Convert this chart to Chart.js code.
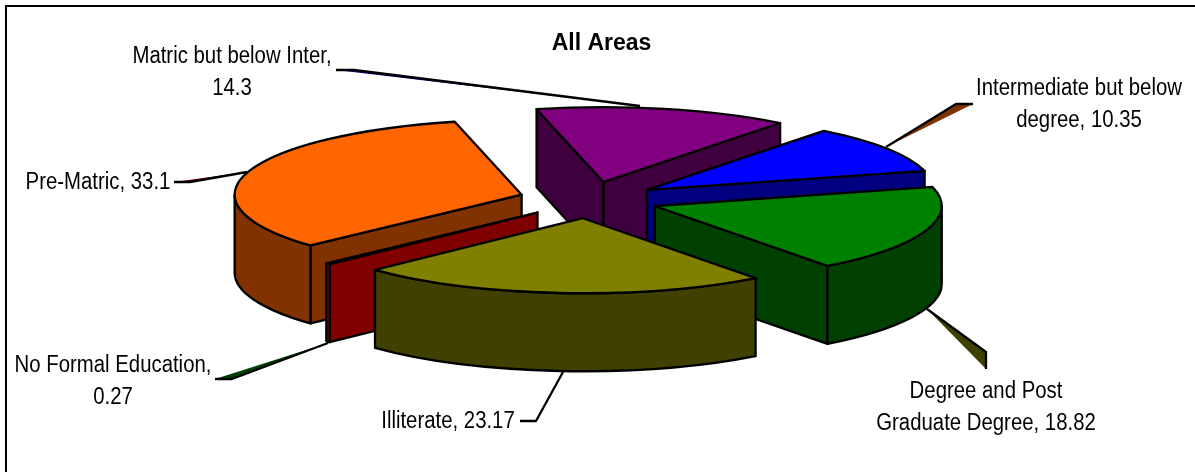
<!DOCTYPE html>
<html>
<head>
<meta charset="utf-8">
<title>All Areas</title>
<script src="https://cdn.jsdelivr.net/npm/chart.js@4"></script>
<style>
    html, body { margin: 0; background: #fff; overflow: hidden; }
    #frame { position: absolute; left: 5px; top: 5px; width: 1300px; height: 600px; border: 2px solid #000; }
    #pie { position: absolute; left: 0; top: 0; }
</style>
</head>
<body>
<div id="frame"></div>
<canvas id="pie" width="1195" height="472"></canvas>
<script>
// Chart data, clockwise from the front right edge of Illiterate
const categories = ['Illiterate', 'No Formal Education', 'Pre-Matric', 'Matric but below Inter', 'Intermediate but below degree', 'Degree and Post Graduate Degree'];
const values = [23.17, 0.27, 33.1, 14.3, 10.35, 18.82];
const topColors = ['#808000', '#800000', '#FF6600', '#800080', '#0000FF', '#008000'];
const wallColors = ['#404000', '#800000', '#803300', '#400040', '#000080', '#004000'];

// Label text is wrapped the same way as the picture
const labelLines = [
    ['Illiterate, 23.17'],
    ['No Formal Education,', '0.27'],
    ['Pre-Matric, 33.1'],
    ['Matric but below Inter,', '14.3'],
    ['Intermediate but below', 'degree, 10.35'],
    ['Degree and Post', 'Graduate Degree, 18.82']
];

// Where the labels sit: centre x, first baseline
const labelSpots = [[448, 428], [113, 372], [98, 189], [232, 63], [1079, 95], [986, 398]];
const lineGap = 32;

// Leader lines: black polyline plus the thin shaded sliver beside it
const leaders = [
    { line: [[520, 421], [536, 421], [563, 372]], sliver: null },
    { line: [[328, 343], [232, 379], [215, 379]], sliver: '#004000' },
    { line: [[174, 182], [190, 182], [247, 172]], sliver: '#800000' },
    { line: [[336, 70], [354, 70], [640, 106]], sliver: '#000080' },
    { line: [[886, 147], [956, 104], [973, 104]], sliver: '#803300' },
    { line: [[927, 309], [986, 352], [986, 369]], sliver: '#404000' }
];

const font = '"Liberation Sans", Arial, sans-serif';
const textSquash = 0.885;
const pieX = 588.6, pieY = 200;
const squash = 75 / 287; // tilt of the pie
const explode = 70;      // how far each slice is pulled out
const wallHeight = 78;

// Turn one arc element into its screen geometry
function arcShape(arc) {
    const mid = (arc.startAngle + arc.endAngle) / 2;
    return {
        cx: pieX + Math.cos(mid) * explode,
        cy: pieY + Math.sin(mid) * explode * squash,
        rx: arc.outerRadius,
        ry: arc.outerRadius * squash,
        a: arc.startAngle,
        b: arc.endAngle
    };
}

function drawWalls(ctx, s, color) {
    const rimX = t => s.cx + Math.cos(t) * s.rx;
    const rimY = t => s.cy + Math.sin(t) * s.ry;
    ctx.fillStyle = color;

    const face = (t) => {
        ctx.beginPath();
        ctx.moveTo(s.cx, s.cy);
        ctx.lineTo(rimX(t), rimY(t));
        ctx.lineTo(rimX(t), rimY(t) + wallHeight);
        ctx.lineTo(s.cx, s.cy + wallHeight);
        ctx.closePath();
        ctx.fill();
        ctx.stroke();
    };

    // Cut faces that turn toward the viewer
    if (Math.cos(s.a) < 0) face(s.a);
    if (Math.cos(s.b) > 0) face(s.b);

    // Outer wall, front half only
    for (const k of [0, 1, 2]) {
        const from = Math.max(s.a, k * 2 * Math.PI);
        const to = Math.min(s.b, k * 2 * Math.PI + Math.PI);
        if (to <= from) continue;
        ctx.beginPath();
        ctx.ellipse(s.cx, s.cy, s.rx, s.ry, 0, from, to);
        ctx.ellipse(s.cx, s.cy + wallHeight, s.rx, s.ry, 0, to, from, true);
        ctx.closePath();
        ctx.fill();
        ctx.stroke();
    }
}

const pie3d = {
    id: 'pie3d',
    beforeDatasetDraw(chart, args) {
        const ctx = chart.ctx;
        const arcs = args.meta.data;

        ctx.lineWidth = 2.3;
        ctx.strokeStyle = '#000';
        ctx.lineJoin = 'round';

        // Leaders go under the slices
        leaders.forEach(l => {
            if (l.sliver) {
                ctx.fillStyle = l.sliver;
                ctx.beginPath();
                l.line.forEach((p, i) => i ? ctx.lineTo(p[0], p[1]) : ctx.moveTo(p[0], p[1]));
                ctx.closePath();
                ctx.fill();
            }
            ctx.beginPath();
            l.line.forEach((p, i) => i ? ctx.lineTo(p[0], p[1]) : ctx.moveTo(p[0], p[1]));
            ctx.stroke();
        });

        // Back slices first
        const order = arcs.map((arc, i) => i).sort((p, q) => {
            const midY = arc => Math.sin((arc.startAngle + arc.endAngle) / 2);
            return midY(arcs[p]) - midY(arcs[q]);
        });

        order.forEach(i => {
            const arc = arcs[i];
            const s = arcShape(arc);
            drawWalls(ctx, s, wallColors[i]);

            // Top face is the library's own arc, squashed
            ctx.save();
            ctx.translate(s.cx, s.cy);
            ctx.scale(1, squash);
            ctx.translate(-arc.x, -arc.y);
            arc.draw(ctx);
            ctx.restore();

            // Outline at even width
            ctx.beginPath();
            ctx.moveTo(s.cx, s.cy);
            ctx.ellipse(s.cx, s.cy, s.rx, s.ry, 0, s.a, s.b);
            ctx.closePath();
            ctx.stroke();
        });

        return false;
    },
    afterDatasetsDraw(chart) {
        const ctx = chart.ctx;
        ctx.save();
        ctx.fillStyle = '#000';
        ctx.textAlign = 'center';
        ctx.textBaseline = 'alphabetic';
        ctx.font = '23px ' + font;
        labelLines.forEach((lines, i) => {
            lines.forEach((text, n) => {
                ctx.save();
                ctx.translate(labelSpots[i][0], labelSpots[i][1] + n * lineGap);
                ctx.scale(textSquash, 1);
                ctx.fillText(text, 0, 0);
                ctx.restore();
            });
        });
        ctx.restore();
    }
};

new Chart(document.getElementById('pie').getContext('2d'), {
    type: 'pie',
    data: {
        labels: categories,
        datasets: [{
            data: values,
            backgroundColor: topColors,
            borderWidth: 0
        }]
    },
    options: {
        responsive: false,
        animation: false,
        events: [],
        rotation: 143,
        radius: 287,
        layout: { padding: { left: 8 } },
        plugins: {
            legend: { display: false },
            tooltip: { enabled: false },
            title: {
                display: true,
                text: 'All Areas',
                color: '#000',
                font: { family: font, size: 23, weight: 'bold' },
                padding: { top: 30, bottom: 10 }
            }
        }
    },
    plugins: [pie3d]
});
</script>
</body>
</html>
